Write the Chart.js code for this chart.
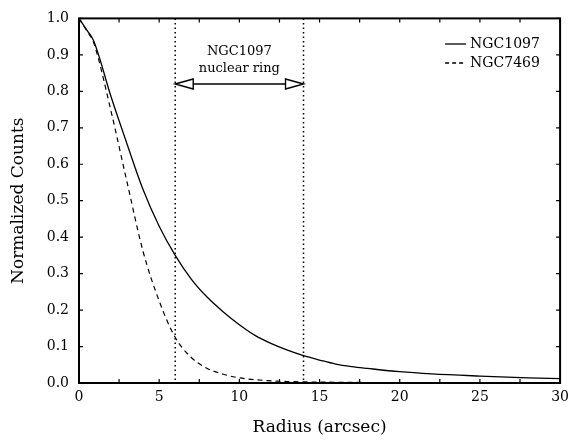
<!DOCTYPE html>
<html>
<head>
<meta charset="utf-8">
<script src="https://cdn.jsdelivr.net/npm/chart.js@4/dist/chart.umd.min.js"></script>
<style>
  html, body { margin: 0; padding: 0; background: #fff; }
  #wrap { width: 575px; height: 441px; }
</style>
</head>
<body>
<div id="wrap"><canvas id="c"></canvas></div>
<script>
// radial profiles
const radius1097 = [0, 0.5, 0.9, 2, 3, 4, 5, 6, 7, 8, 9, 10, 11, 12, 13, 14, 15, 16, 17, 18, 20, 22, 25, 28, 30];
const counts1097 = [1.0, 0.967, 0.94, 0.785, 0.655, 0.53, 0.43, 0.35, 0.285, 0.235, 0.195, 0.16, 0.13, 0.108, 0.09, 0.075, 0.063, 0.052, 0.045, 0.04, 0.031, 0.025, 0.019, 0.014, 0.012];
const radius7469 = [0, 0.5, 0.9, 2, 3, 4, 5, 6, 7, 8, 9, 10, 11, 12, 13, 14, 16, 20, 25, 30];
const counts7469 = [1.0, 0.965, 0.935, 0.745, 0.55, 0.36, 0.225, 0.125, 0.07, 0.04, 0.024, 0.014, 0.009, 0.006, 0.004, 0.003, 0.002, 0.001, 0.0005, 0.0];
const ringEdges = [6, 14];
const arrowLevel = 0.82;
const xTicks = [0, 5, 10, 15, 20, 25, 30];
const yTicks = [0, 0.1, 0.2, 0.3, 0.4, 0.5, 0.6, 0.7, 0.8, 0.9, 1.0];
const seriesNames = ['NGC1097', 'NGC7469'];

const FONT = "'DejaVu Serif', serif";

function pts(xs, ys) {
    return xs.map((x, i) => ({ x: x, y: ys[i] }));
}

// frame, inward ticks, ring markers, legend
const decor = {
    id: 'decor',
    afterDatasetsDraw(chart) {
        const ctx = chart.ctx;
        const a = chart.chartArea;
        const sx = chart.scales.x, sy = chart.scales.y;
        ctx.save();
        ctx.strokeStyle = '#000';

        // dotted verticals
        ctx.lineWidth = 1.5;
        ctx.setLineDash([1.5, 3]);
        ringEdges.forEach(v => {
            const px = sx.getPixelForValue(v);
            ctx.beginPath();
            ctx.moveTo(px, a.top);
            ctx.lineTo(px, a.bottom);
            ctx.stroke();
        });
        ctx.setLineDash([]);

        // double arrow
        const x1 = sx.getPixelForValue(ringEdges[0]);
        const x2 = sx.getPixelForValue(ringEdges[1]);
        const ay = sy.getPixelForValue(arrowLevel);
        const hl = 18, hh = 5;
        ctx.lineWidth = 1.4;
        ctx.beginPath();
        ctx.moveTo(x1 + hl, ay);
        ctx.lineTo(x2 - hl, ay);
        ctx.stroke();
        ctx.beginPath();
        ctx.moveTo(x1, ay);
        ctx.lineTo(x1 + hl, ay - hh);
        ctx.lineTo(x1 + hl, ay + hh);
        ctx.closePath();
        ctx.stroke();
        ctx.beginPath();
        ctx.moveTo(x2, ay);
        ctx.lineTo(x2 - hl, ay - hh);
        ctx.lineTo(x2 - hl, ay + hh);
        ctx.closePath();
        ctx.stroke();

        ctx.fillStyle = '#000';
        ctx.font = '13px ' + FONT;
        ctx.textAlign = 'center';
        ctx.textBaseline = 'middle';
        const mid = sx.getPixelForValue((ringEdges[0] + ringEdges[1]) / 2);
        ctx.fillText('NGC1097', mid, sy.getPixelForValue(0.908));
        ctx.fillText('nuclear ring', mid, sy.getPixelForValue(0.862));

        // inward ticks
        ctx.lineWidth = 1.2;
        for (let v = 0; v <= 30; v += 2.5) {
            const px = sx.getPixelForValue(v);
            ctx.beginPath();
            ctx.moveTo(px, a.bottom); ctx.lineTo(px, a.bottom - 4);
            ctx.moveTo(px, a.top); ctx.lineTo(px, a.top + 4);
            ctx.stroke();
        }
        yTicks.forEach(v => {
            const py = sy.getPixelForValue(v);
            ctx.beginPath();
            ctx.moveTo(a.left, py); ctx.lineTo(a.left + 4, py);
            ctx.moveTo(a.right, py); ctx.lineTo(a.right - 4, py);
            ctx.stroke();
        });

        // frame
        ctx.lineWidth = 2;
        ctx.strokeRect(a.left, a.top, a.right - a.left, a.bottom - a.top);

        // legend
        const lx = a.right - 119;
        ctx.font = '14px ' + FONT;
        ctx.textAlign = 'left';
        ctx.lineWidth = 1.3;
        [44, 63].forEach((ly, i) => {
            ctx.setLineDash(i === 0 ? [] : [4, 3]);
            ctx.beginPath();
            ctx.moveTo(lx + 4, ly);
            ctx.lineTo(lx + 25, ly);
            ctx.stroke();
            ctx.setLineDash([]);
            ctx.fillText(seriesNames[i], lx + 29, ly);
        });
        ctx.restore();
    }
};

new Chart(document.getElementById('c'), {
    type: 'line',
    data: {
        datasets: [{
            label: seriesNames[0],
            data: pts(radius1097, counts1097),
            borderColor: '#000',
            borderWidth: 1.3,
            pointRadius: 0,
            cubicInterpolationMode: 'monotone',
            fill: false
        }, {
            label: seriesNames[1],
            data: pts(radius7469, counts7469),
            borderColor: '#000',
            borderWidth: 1.2,
            borderDash: [5, 4],
            pointRadius: 0,
            cubicInterpolationMode: 'monotone',
            fill: false
        }]
    },
    options: {
        responsive: true,
        maintainAspectRatio: false,
        animation: false,
        layout: { padding: { top: 11, right: 9, left: 0, bottom: 0 } },
        plugins: {
            legend: { display: false },
            tooltip: { enabled: false }
        },
        scales: {
            x: {
                type: 'linear',
                min: 0, max: 30,
                afterBuildTicks: s => { s.ticks = xTicks.map(v => ({ value: v })); },
                afterFit: s => { s.height = 58; },
                grid: { display: false, drawTicks: false },
                border: { display: false },
                ticks: {
                    color: '#000',
                    font: { family: FONT, size: 14 },
                    padding: 6,
                    maxRotation: 0
                },
                title: {
                    display: true,
                    text: 'Radius (arcsec)',
                    color: '#000',
                    font: { family: FONT, size: 17 },
                    padding: { top: 0, bottom: 3 }
                }
            },
            y: {
                type: 'linear',
                min: 0, max: 1,
                afterBuildTicks: s => { s.ticks = yTicks.map(v => ({ value: v })); },
                afterFit: s => { s.width = 79; },
                grid: { display: false, drawTicks: false },
                border: { display: false },
                ticks: {
                    color: '#000',
                    font: { family: FONT, size: 14 },
                    padding: 10,
                    callback: v => v.toFixed(1)
                },
                title: {
                    display: true,
                    text: 'Normalized Counts',
                    color: '#000',
                    font: { family: FONT, size: 17 },
                    padding: { top: 8, bottom: 0 }
                }
            }
        }
    },
    plugins: [decor]
});
</script>
</body>
</html>
